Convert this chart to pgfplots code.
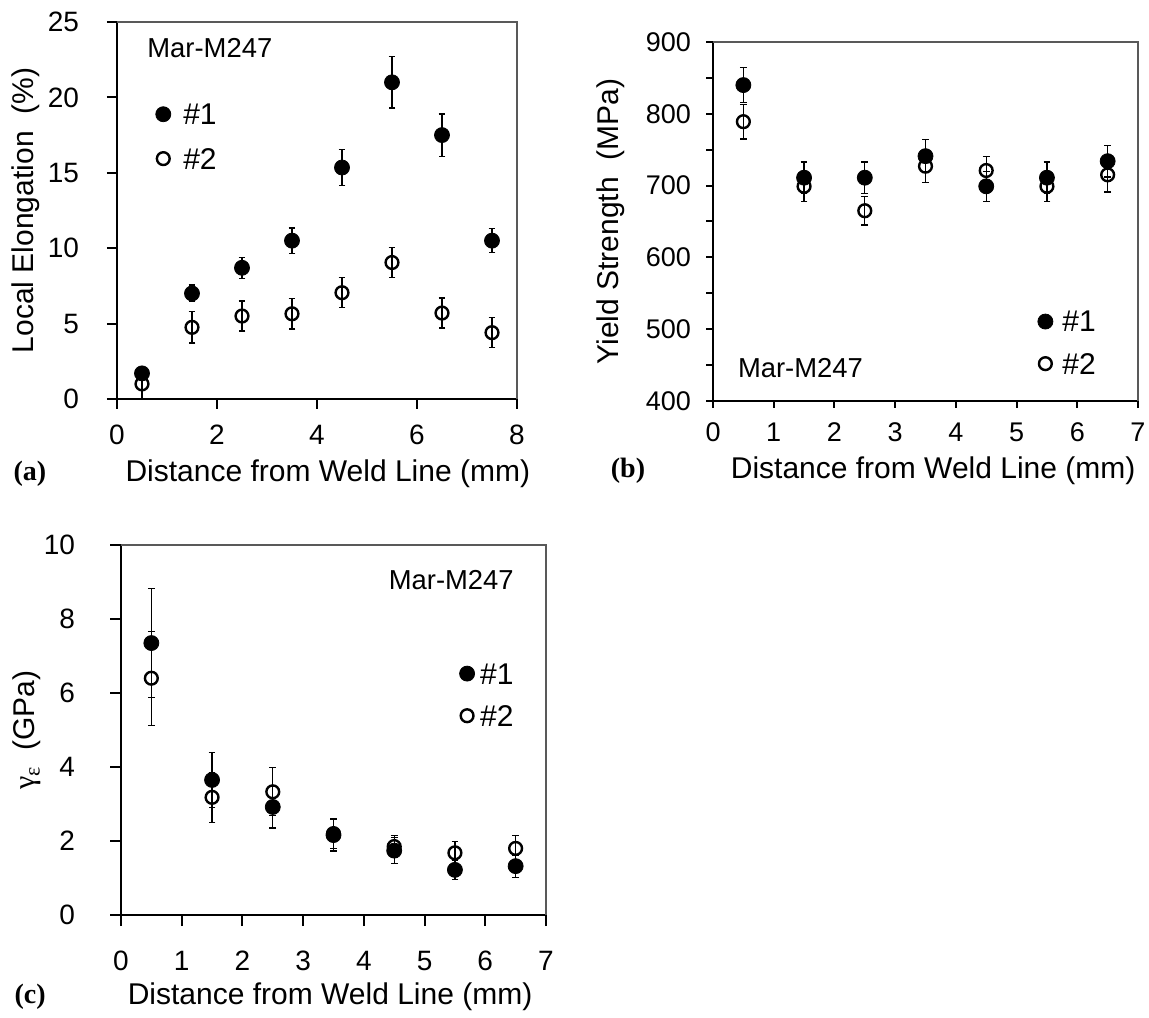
\documentclass[border=0pt]{standalone}
\usepackage{pgfplots}
\pgfplotsset{compat=1.18}
\usepackage{fontspec}
\setmainfont{Liberation Sans}
\newfontfamily\tnr{Liberation Serif}

\newcommand\labfont{\fontsize{15}{18}\selectfont}
\newcommand\tickfont{\fontsize{14}{17}\selectfont}
\newcommand\notefont{\fontsize{13.7}{16}\selectfont}

\pgfplotsset{
  panel/.style={
    scale only axis, clip=false,
    axis lines*=left,
    axis line style={line width=1.25pt, black},
    tick align=outside,
    every tick/.style={black, line width=1pt},
    tick label style={font=\tickfont},
    /pgf/number format/assume math mode=true,
    label style={font=\labfont},
    legend style={draw=none, fill=none, inner sep=0pt, font=\labfont},
    legend cell align=left,
    legend image code/.code={\draw[##1, only marks] plot coordinates {(0pt,0.8pt)};},
    extra description/.code={
      \draw[gray!70!black, line width=0.7pt] (axis description cs:0,1) -- (axis description cs:1,1) -- (axis description cs:1,0);},
  },
  one/.style={only marks, mark=*, mark size=3.75pt, black,
    error bars/.cd, y dir=both, y explicit,
    error bar style={line width=0.65pt, black},
    error mark options={rotate=90, mark size=1.7pt, line width=0.65pt, black}},
  two/.style={only marks, mark=o, mark size=3.2pt, black, mark options={line width=1.2pt, fill=none},
    error bars/.cd, y dir=both, y explicit,
    error bar style={line width=0.65pt, black},
    error mark options={rotate=90, mark size=1.7pt, line width=0.65pt, black}},
}

\begin{document}
\begin{tikzpicture}

% (a) local elongation
\begin{axis}[panel, at={(58.5pt,309pt)}, anchor=south west,
  width=200pt, height=188.5pt,
  xmin=0, xmax=8, ymin=0, ymax=25,
  xtick={0,2,4,6,8}, ytick={0,5,10,15,20,25},
  major tick length=5pt, yticklabel style={xshift=-10.5pt}, xticklabel style={yshift=-4.5pt},
  xlabel={Distance from Weld Line (mm)},
  ylabel={Local Elongation\ \ (\%)},
  xlabel style={at={(axis description cs:0.527,-0.199)}, anchor=center},
  ylabel style={at={(axis description cs:-0.228,0.5)}, anchor=center},
  legend style={at={(axis description cs:0.096,0.692)}, anchor=west, column sep=6.25pt,
    nodes={inner xsep=0pt, inner ysep=5.15pt}}]
\addplot[one] coordinates {
  (0.5,1.7) +- (0,0)
  (1.5,7.0) +- (0,0.55)
  (2.5,8.7) +- (0,0.7)
  (3.5,10.5) +- (0,0.83)
  (4.5,15.35) +- (0,1.2)
  (5.5,21.0) +- (0,1.7)
  (6.5,17.5) +- (0,1.4)
  (7.5,10.5) +- (0,0.8)
};
\addplot[two] coordinates {
  (0.5,1.0) +- (0,1.0)
  (1.5,4.75) +- (0,1.03)
  (2.5,5.5) +- (0,1.0)
  (3.5,5.65) +- (0,1.0)
  (4.5,7.05) +- (0,1.0)
  (5.5,9.05) +- (0,1.0)
  (6.5,5.7) +- (0,1.0)
  (7.5,4.4) +- (0,1.0)
};
\legend{\#1,\#2}
\node[font=\notefont, anchor=west, inner sep=0pt] at (axis description cs:0.075,0.93) {Mar-M247};
\node[font=\fontsize{14}{16}\selectfont\tnr\bfseries] at (axis description cs:-0.2175,-0.199) {(a)};
\end{axis}

% (b) yield strength
\begin{axis}[panel, at={(356.5pt,308pt)}, anchor=south west,
  width=212.5pt, height=179.5pt,
  xmin=0, xmax=7, ymin=400, ymax=900,
  xtick={0,1,...,7}, ytick={400,500,...,900}, minor y tick num=1,
  tick label style={font=\fontsize{13.5}{16}\selectfont},
  major tick length=3.5pt, minor tick length=3.5pt, yticklabel style={xshift=-4pt}, xticklabel style={yshift=-4pt},
  xlabel={Distance from Weld Line (mm)},
  ylabel={Yield Strength\ \ (MPa)},
  xlabel style={at={(axis description cs:0.518,-0.195)}, anchor=center},
  ylabel style={at={(axis description cs:-0.24,0.5)}, anchor=center},
  legend style={at={(axis description cs:0.7635,0.158)}, anchor=west, column sep=4.75pt,
    nodes={inner xsep=0pt, inner ysep=4.58pt}}]
\addplot[one] coordinates {
  (0.5,840) +- (0,24)
  (1.5,711) +- (0,22)
  (2.5,711) +- (0,22)
  (3.5,741) +- (0,23)
  (4.5,699) +- (0,21)
  (5.5,711) +- (0,22)
  (6.5,734) +- (0,22)
};
\addplot[two] coordinates {
  (0.5,789) +- (0,24)
  (1.5,699) +- (0,21)
  (2.5,665) +- (0,20)
  (3.5,727) +- (0,23)
  (4.5,721) +- (0,20)
  (5.5,699) +- (0,21)
  (6.5,715) +- (0,24)
};
\legend{\#1,\#2}
\node[font=\notefont, anchor=west, inner sep=0pt] at (axis description cs:0.058,0.092) {Mar-M247};
\node[font=\fontsize{14}{16}\selectfont\tnr\bfseries] at (axis description cs:-0.2,-0.195) {(b)};
\end{axis}

% (c) gamma epsilon
\begin{axis}[panel, at={(60.5pt,51pt)}, anchor=south west,
  width=212.5pt, height=185pt,
  xmin=0, xmax=7, ymin=0, ymax=10,
  xtick={0,1,...,7}, ytick={0,2,...,10},
  major tick length=5.5pt, yticklabel style={xshift=-14pt}, xticklabel style={yshift=-9pt},
  xlabel={Distance from Weld Line (mm)},
  ylabel={{\tnr γ\raisebox{-0.35ex}{\fontsize{11}{12}\selectfont ε}}\ \ (GPa)},
  xlabel style={at={(axis description cs:0.492,-0.222)}, anchor=center},
  ylabel style={at={(axis description cs:-0.221,0.5)}, anchor=center},
  legend style={at={(axis description cs:0.7958,0.591)}, anchor=west, column sep=2.75pt,
    nodes={inner xsep=0pt, inner ysep=4.58pt}}]
\addplot[one] coordinates {
  (0.5,7.35) +- (0,1.48)
  (1.5,3.65) +- (0,0.74)
  (2.5,2.92) +- (0,0.57)
  (3.5,2.16) +- (0,0.43)
  (4.5,1.74) +- (0,0.35)
  (5.5,1.22) +- (0,0.26)
  (6.5,1.32) +- (0,0.3)
};
\addplot[two] coordinates {
  (0.5,6.4) +- (0,1.27)
  (1.5,3.18) +- (0,0.68)
  (2.5,3.33) +- (0,0.65)
  (3.5,2.2) +- (0,0.4)
  (4.5,1.85) +- (0,0.3)
  (5.5,1.68) +- (0,0.3)
  (6.5,1.8) +- (0,0.34)
};
\legend{\#1,\#2}
\node[font=\notefont, anchor=east, inner sep=0pt] at (axis description cs:0.925,0.905) {Mar-M247};
\node[font=\fontsize{14}{16}\selectfont\tnr\bfseries] at (axis description cs:-0.214,-0.222) {(c)};
\end{axis}

\pgfresetboundingbox
\path (0,0) rectangle (574.5pt,508.5pt);
\end{tikzpicture}
\end{document}
